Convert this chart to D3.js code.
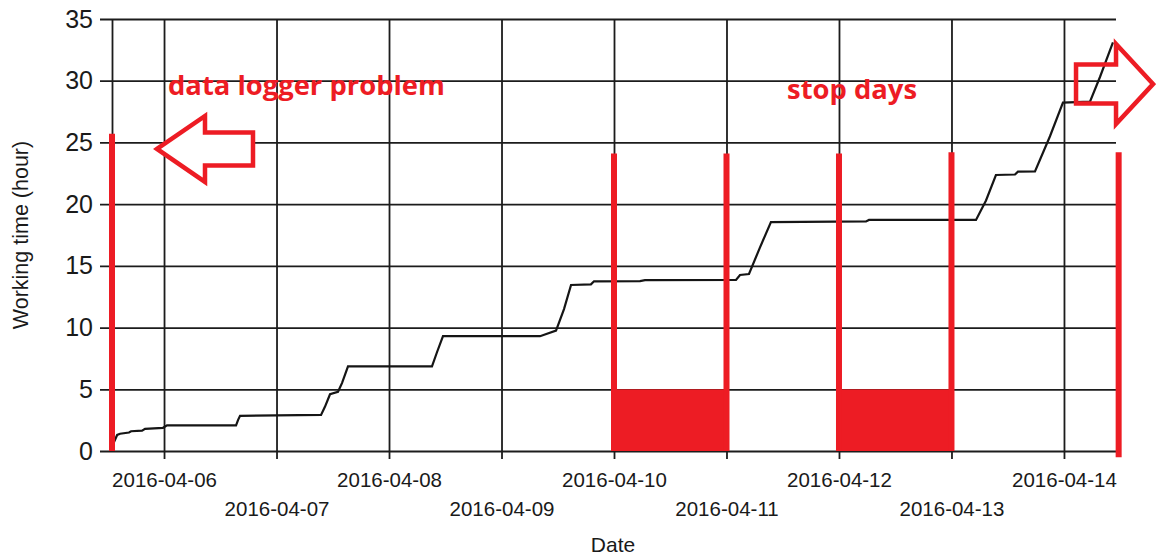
<!DOCTYPE html>
<html>
<head>
<meta charset="utf-8">
<script src="https://cdn.jsdelivr.net/npm/d3@7"></script>
<style>
  body { margin: 0; background: #fff; }
  svg { display: block; }
  .axis text { fill: #1a1a1a; font-family: "Liberation Sans", Arial, sans-serif; }
  .note { fill: #ed1c24; font-family: "Open Sans", sans-serif; font-weight: 700; }
</style>
</head>
<body>
<div class="chart"></div>
<script>
// working time log

var times = [
  "2016-04-05 13:07", "2016-04-05 14:00", "2016-04-05 14:37", "2016-04-05 16:32",
  "2016-04-05 16:58", "2016-04-05 19:19", "2016-04-05 19:57", "2016-04-05 23:47",
  "2016-04-06 00:38", "2016-04-06 15:22", "2016-04-06 15:47", "2016-04-06 16:13",
  "2016-04-07 09:30", "2016-04-07 10:21", "2016-04-07 11:25", "2016-04-07 13:07",
  "2016-04-07 13:58", "2016-04-07 15:15", "2016-04-08 09:10", "2016-04-08 10:14",
  "2016-04-08 11:31", "2016-04-09 08:13", "2016-04-09 11:38", "2016-04-09 13:20",
  "2016-04-09 14:50", "2016-04-09 19:05", "2016-04-09 19:44", "2016-04-10 05:33",
  "2016-04-10 06:37", "2016-04-11 02:02", "2016-04-11 02:53", "2016-04-11 04:48",
  "2016-04-11 07:09", "2016-04-11 09:29", "2016-04-12 05:46", "2016-04-12 06:24",
  "2016-04-13 05:14", "2016-04-13 07:22", "2016-04-13 09:29", "2016-04-13 13:33",
  "2016-04-13 14:11", "2016-04-13 17:49", "2016-04-13 21:01", "2016-04-13 23:47",
  "2016-04-14 05:33", "2016-04-14 07:41", "2016-04-14 10:27"
];
var hours = [
  0.55, 1.3, 1.4, 1.5,
  1.6, 1.65, 1.8, 1.88,
  2.08, 2.08, 2.5, 2.85,
  2.92, 3.6, 4.6, 4.8,
  5.5, 6.85, 6.85, 8.0,
  9.3, 9.3, 9.75, 11.5,
  13.45, 13.5, 13.75, 13.77,
  13.85, 13.86, 14.26, 14.34,
  16.5, 18.55, 18.6, 18.72,
  18.72, 20.3, 22.36, 22.4,
  22.63, 22.65, 25.5, 28.22,
  28.3, 30.3, 33.1
];

var yTicks = [0, 5, 10, 15, 20, 25, 30, 35];
var dayTicks = ["2016-04-06", "2016-04-07", "2016-04-08", "2016-04-09", "2016-04-10",
                "2016-04-11", "2016-04-12", "2016-04-13", "2016-04-14"];
var xStart = "2016-04-05 12:54", xEnd = "2016-04-14 11:06";

// red annotations drawn over the chart
var stopStarts = ["2016-04-10 00:00", "2016-04-12 00:00"];
var stopEnds = ["2016-04-11 00:00", "2016-04-13 00:00"];
var stopHeight = 5;
var markTimes = ["2016-04-05 12:54", "2016-04-10 00:00", "2016-04-11 00:00",
                 "2016-04-12 00:00", "2016-04-13 00:00", "2016-04-14 11:40"];
var markTops = [25.7, 24.1, 24.1, 24.1, 24.2, 24.2];
var markBottoms = [0, 0, 0, 0, 0, -0.5];
var noteTexts = ["data logger problem", "stop days"];
var noteTimes = ["2016-04-06 00:51", "2016-04-11 12:55"];
var noteHours = [28.84, 28.52];

// HELPERS

var parseT = d3.utcParse("%Y-%m-%d %H:%M");
var parseDay = d3.utcParse("%Y-%m-%d");
var fmtDay = d3.utcFormat("%Y-%m-%d");

var W = 1156, H = 558;
var margin = {top: 19, right: 40, bottom: 107, left: 112};
var width = W - margin.left - margin.right;
var height = H - margin.top - margin.bottom;
var red = "#ed1c24", ink = "#1c1c1c";

var svg = d3.select(".chart").append("svg")
  .attr("width", W)
  .attr("height", H);

var g = svg.append("g")
  .attr("transform", "translate(" + margin.left + "," + margin.top + ")");

var x = d3.scaleUtc()
  .domain([parseT(xStart), parseT(xEnd)])
  .range([0, width]);

var y = d3.scaleLinear()
  .domain([0, 35])
  .range([height, 0]);

// Y AXIS + horizontal grid

var yAxis = g.append("g")
  .attr("class", "axis")
  .call(d3.axisLeft(y).tickValues(yTicks).tickSize(12).tickSizeOuter(0).tickPadding(8));

yAxis.selectAll(".tick line")
  .attr("x1", width)
  .attr("stroke", ink)
  .attr("stroke-width", 1.8);
yAxis.select(".domain").attr("stroke", ink).attr("stroke-width", 1.8);
yAxis.selectAll(".tick text")
  .attr("x", -19)
  .style("font-size", "25px");

// X AXIS + vertical grid, labels in two rows

var xAxis = g.append("g")
  .attr("class", "axis")
  .attr("transform", "translate(0," + height + ")")
  .call(d3.axisBottom(x).tickValues(dayTicks.map(parseDay)).tickFormat(fmtDay).tickSize(8).tickSizeOuter(0));

xAxis.select(".domain").remove();
xAxis.selectAll(".tick line")
  .attr("y1", -height)
  .attr("stroke", ink)
  .attr("stroke-width", 1.8);
xAxis.selectAll(".tick text")
  .attr("y", function(d, i){ return i % 2 ? 65 : 36; })
  .attr("dy", 0)
  .style("font-size", "20.5px");

// axis titles

svg.append("text")
  .attr("x", margin.left + x(parseDay("2016-04-10")) - 1)
  .attr("y", 552)
  .attr("text-anchor", "middle")
  .style("font-family", "'Liberation Sans', Arial, sans-serif")
  .style("font-size", "21px")
  .style("fill", "#1a1a1a")
  .text("Date");

svg.append("text")
  .attr("transform", "translate(28," + (margin.top + y(17.5)) + ") rotate(-90)")
  .attr("text-anchor", "middle")
  .style("font-family", "'Liberation Sans', Arial, sans-serif")
  .style("font-size", "21.5px")
  .style("fill", "#1a1a1a")
  .text("Working time (hour)");

// DATA LINE

var points = times.map(function(t, i){ return {t: parseT(t), v: hours[i]}; });

var line = d3.line()
  .x(function(d){ return x(d.t); })
  .y(function(d){ return y(d.v); });

g.append("path")
  .datum(points)
  .attr("d", line)
  .attr("fill", "none")
  .attr("stroke", "#151515")
  .attr("stroke-width", 2.2);

// RED ANNOTATIONS

g.selectAll(".stop")
  .data(stopStarts)
  .enter()
  .append("rect")
  .attr("class", "stop")
  .attr("x", function(d){ return x(parseT(d)); })
  .attr("width", function(d, i){ return x(parseT(stopEnds[i])) - x(parseT(d)); })
  .attr("y", y(stopHeight))
  .attr("height", y(0) - y(stopHeight))
  .attr("fill", red);

g.selectAll(".mark")
  .data(markTimes)
  .enter()
  .append("line")
  .attr("class", "mark")
  .attr("x1", function(d){ return x(parseT(d)); })
  .attr("x2", function(d){ return x(parseT(d)); })
  .attr("y1", function(d, i){ return y(markTops[i]); })
  .attr("y2", function(d, i){ return y(markBottoms[i]); })
  .attr("stroke", red)
  .attr("stroke-width", 6);

// block arrow: tip at (tx,ty), dir -1 = pointing left, +1 = pointing right
var arrowPath = function(tx, ty, dir, len, headLen, headHalf, shaftHalf){
  var hb = tx - dir * headLen, end = tx - dir * len;
  return "M" + tx + "," + ty +
    "L" + hb + "," + (ty - headHalf) +
    "L" + hb + "," + (ty - shaftHalf) +
    "L" + end + "," + (ty - shaftHalf) +
    "L" + end + "," + (ty + shaftHalf) +
    "L" + hb + "," + (ty + shaftHalf) +
    "L" + hb + "," + (ty + headHalf) + "Z";
};

g.append("path")
  .attr("d", arrowPath(x(parseT("2016-04-05 22:30")), y(24.47), -1, 96, 48, 33, 16.5))
  .attr("fill", "#fff")
  .attr("stroke", red)
  .attr("stroke-width", 4.5);

g.append("path")
  .attr("d", arrowPath(x(parseT("2016-04-14 19:00")), y(29.73), 1, 77, 37, 40, 19.5))
  .attr("fill", "none")
  .attr("stroke", red)
  .attr("stroke-width", 4.5);

g.selectAll(".note")
  .data(noteTexts)
  .enter()
  .append("text")
  .attr("class", "note")
  .attr("x", function(d, i){ return x(parseT(noteTimes[i])); })
  .attr("y", function(d, i){ return y(noteHours[i]); })
  .style("font-size", "27.4px")
  .text(function(d){ return d; });
</script>
</body>
</html>
